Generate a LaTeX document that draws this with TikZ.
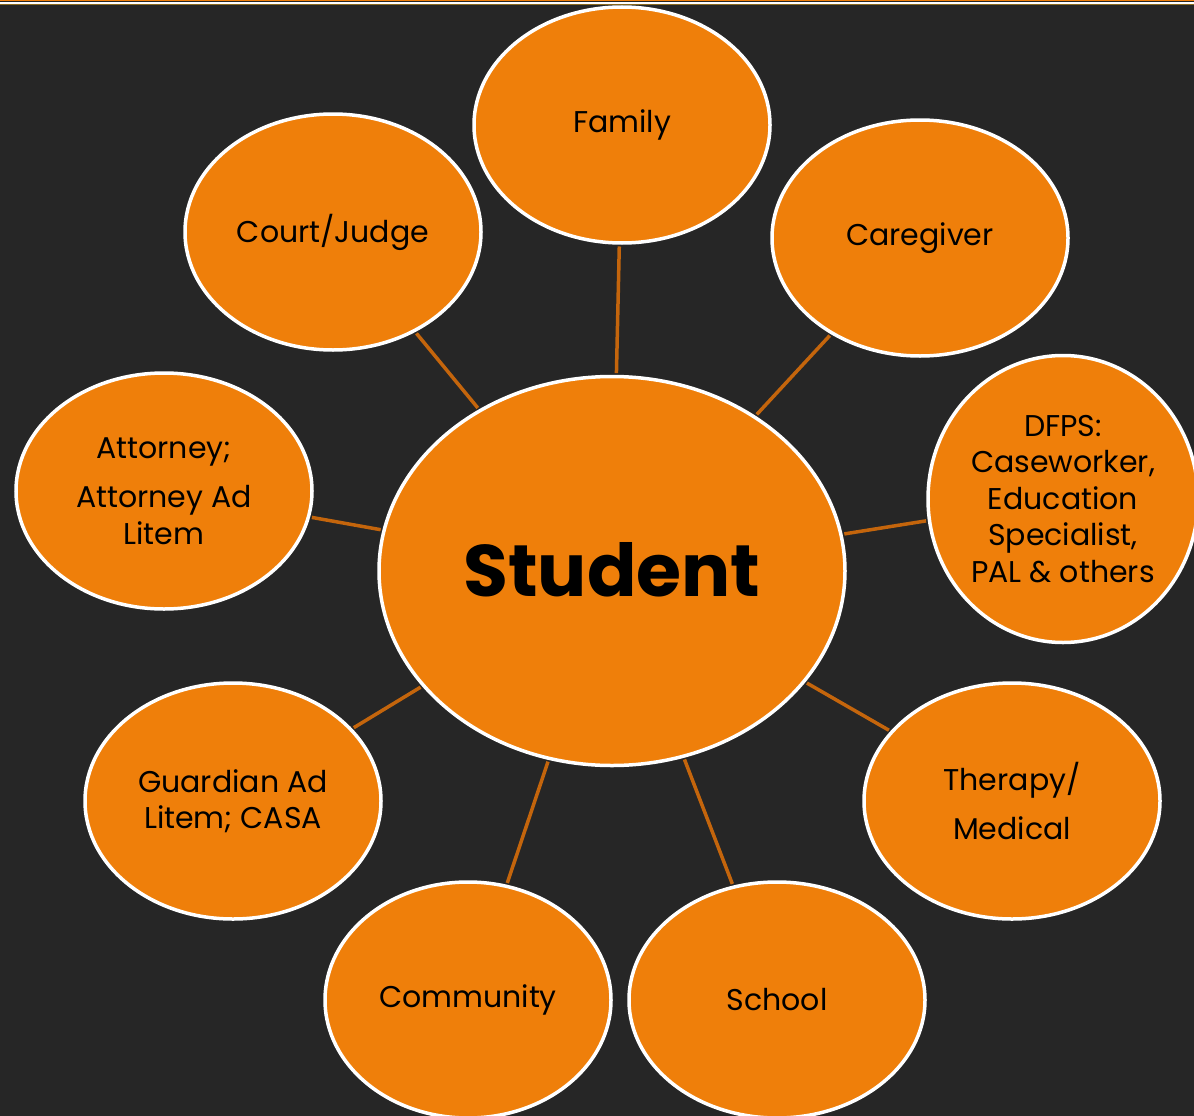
\documentclass[tikz,border=0pt]{standalone}
\usepackage{fontspec}
\setmainfont{Poppins}
\usetikzlibrary{shapes.geometric}
\definecolor{slide}{HTML}{262626}
\definecolor{accent}{HTML}{EF7F0A}
\definecolor{spokeline}{HTML}{C4650C}
\definecolor{rule}{HTML}{8A6A20}
\tikzset{
  bubble/.style = {ellipse, fill=#1, draw=white, line width=3.5pt, inner sep=0pt,
    minimum width=296pt, minimum height=236pt, align=center,
    font=\fontsize{30}{36.5}\selectfont},
  hub/.style = {bubble={#1}, minimum width=466pt, minimum height=389pt,
    font=\fontsize{73}{80}\selectfont\bfseries},
  spoke/.style = {color=#1, line width=3.5pt, shorten >=1.75pt, shorten <=1.75pt},
  band/.style = {fill=#1}
}

\begin{document}
\begin{tikzpicture}[x=1pt, y=-1pt]

    \def\gap{13pt}

    % Slide
    \useasboundingbox (0,0) rectangle (1194,1116);
    \clip (0,0) rectangle (1194,1116);
    \fill[slide] (0,0) rectangle (1194,1116);
    \fill[band={accent}] (0,0) rectangle (1194,1.5);
    \fill[band={white}] (0,2.5) rectangle (1194,4);
    \fill[band={rule}] (0,4) rectangle (1194,5);

    % Bubbles
    \node[hub={accent}] (student) at (612,571) {\raisebox{4pt}{Student}};
    \node[bubble={accent}] (family) at (622,125) {Family};
    \node[bubble={accent}] (court) at (333,232) {Court/Judge};
    \node[bubble={accent}] (caregiver) at (920,238) {Caregiver};
    \node[bubble={accent}] (attorney) at (164,491) {Attorney;\\[\gap]Attorney Ad\\Litem};
    \node[bubble={accent}, minimum width=270pt, minimum height=287pt] (dfps) at (1063,499)
      {DFPS:\\Caseworker,\\Education\\Specialist,\\PAL \& others};
    \node[bubble={accent}] (guardian) at (233,801) {Guardian Ad\\Litem; CASA};
    \node[bubble={accent}] (therapy) at (1012,801) {Therapy/\\[\gap]Medical};
    \node[bubble={accent}, minimum width=286pt] (community) at (468,1000) {Community};
    \node[bubble={accent}] (school) at (777,1000) {School};

    % Spokes
    \foreach \n in {family,court,caregiver,attorney,dfps,guardian,therapy,community,school}
      \draw[spoke={spokeline}] (student) -- (\n);

\end{tikzpicture}
\end{document}
